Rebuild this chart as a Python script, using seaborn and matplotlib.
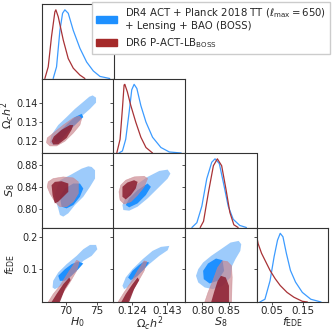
import pandas as pd
import seaborn as sns
import matplotlib.pyplot as plt
from matplotlib.patches import Patch

# axis setup for the four parameters
labels = [r'$H_0$', r'$\Omega_c h^2$', r'$S_8$', r'$f_{\rm EDE}$']
ranges = [(66.2, 77.7), (0.1138, 0.1530), (0.767, 0.902), (0.0, 0.229)]
xticks = [[70, 75], [0.124, 0.143], [0.80, 0.85], [0.05, 0.15]]
xticklabels = [['70', '75'], ['0.124', '0.143'], ['0.80', '0.85'], ['0.05', '0.15']]
yticks = [[], [0.12, 0.13, 0.14], [0.80, 0.84, 0.88], [0.1, 0.2]]
yticklabels = [[], ['0.12', '0.13', '0.14'], ['0.80', '0.84', '0.88'], ['0.1', '0.2']]

legend_labels = ['DR4 ACT + Planck 2018 TT ($\\ell_{\\rm max} = 650$)\n+ Lensing + BAO (BOSS)',
                 r'DR6 P-ACT-LB$_{\rm BOSS}$']

# 1D marginals (normalised to peak = 1)
h0_blue_x = [68.0, 68.54, 69.08, 69.51, 69.88, 70.42, 71.23, 72.3, 73.38, 74.45, 75.53, 77.1]
h0_blue_p = [0, 0.17, 0.70, 0.95, 1.0, 0.95, 0.70, 0.44, 0.24, 0.11, 0.03, 0]
h0_red_x = [66.66, 67.2, 67.73, 68.27, 68.43, 68.81, 69.62, 70.42, 71.23, 72.3, 73.1]
h0_red_p = [0, 0.17, 0.61, 0.97, 1.0, 0.90, 0.56, 0.29, 0.15, 0.05, 0]

om_blue_x = [0.1168, 0.1187, 0.1205, 0.1224, 0.1238, 0.1251, 0.1266, 0.1288, 0.1316, 0.1352, 0.1398, 0.1444, 0.1509]
om_blue_p = [0, 0.03, 0.20, 0.60, 0.92, 1.0, 0.94, 0.69, 0.45, 0.23, 0.08, 0.015, 0]
om_red_x = [0.1156, 0.1174, 0.1187, 0.1196, 0.1200, 0.1214, 0.1233, 0.1260, 0.1288, 0.1316, 0.1352]
om_red_p = [0, 0.2, 0.65, 0.99, 1.0, 0.89, 0.69, 0.45, 0.23, 0.08, 0]

s8_blue_x = [0.78, 0.7894, 0.7988, 0.8081, 0.8175, 0.8237, 0.8318, 0.8393, 0.8486, 0.858, 0.8704, 0.8829]
s8_blue_p = [0, 0.07, 0.31, 0.71, 0.95, 1.0, 0.93, 0.66, 0.31, 0.12, 0.03, 0]
s8_red_x = [0.7957, 0.802, 0.8112, 0.8206, 0.8281, 0.8362, 0.8443, 0.8517, 0.8592, 0.8673]
s8_red_p = [0, 0.09, 0.51, 0.9, 1.0, 0.9, 0.56, 0.22, 0.04, 0]

f_blue_x = [0.0107, 0.027, 0.0434, 0.0564, 0.0673, 0.076, 0.0847, 0.0956, 0.1087, 0.125, 0.1468, 0.174, 0.2067]
f_blue_p = [0, 0.04, 0.31, 0.66, 0.90, 1.0, 0.95, 0.71, 0.46, 0.29, 0.14, 0.04, 0]
f_red_x = [0.0, 0.0052, 0.0161, 0.027, 0.0434, 0.0597, 0.076, 0.0978, 0.1196, 0.1468, 0.163]
f_red_p = [0.975, 0.85, 0.71, 0.61, 0.46, 0.34, 0.24, 0.14, 0.07, 0.01, 0]

# 2D contours (68% = 1, 95% = 2), outlines
om_h0_blue2 = [(74.35, 0.1441), (74.89, 0.1429), (74.89, 0.1403), (73.92, 0.1370), (72.84, 0.1339), (71.77, 0.1302),
               (70.69, 0.1260), (69.62, 0.1217), (68.54, 0.1183), (68.0, 0.1180), (67.47, 0.1192), (67.74, 0.1234),
               (68.81, 0.1285), (70.16, 0.1327), (71.5, 0.1370), (72.84, 0.1407), (73.81, 0.1434)]
om_h0_blue1 = [(72.58, 0.1344), (72.84, 0.1327), (71.77, 0.1293), (70.43, 0.1251), (69.35, 0.1209), (68.54, 0.1192),
               (68.11, 0.1209), (68.81, 0.1243), (70.16, 0.1288), (71.5, 0.1327)]
om_h0_red2 = [(67.04, 0.1217), (66.93, 0.1192), (67.47, 0.1175), (68.54, 0.1175), (69.89, 0.1200), (71.23, 0.1243),
              (72.3, 0.1285), (72.58, 0.1319), (72.2, 0.1332), (71.23, 0.1322), (69.62, 0.1285), (68.0, 0.1242)]
om_h0_red1 = [(67.74, 0.1200), (68.0, 0.1183), (68.81, 0.1183), (70.16, 0.1217), (70.96, 0.1260), (71.23, 0.1285),
              (70.69, 0.1285), (69.35, 0.1260), (68.11, 0.1225)]

s8_h0_blue2 = [(74.19, 0.8767), (74.73, 0.8707), (74.73, 0.8557), (73.92, 0.8407), (72.84, 0.8227), (71.5, 0.8077),
               (70.43, 0.7927), (69.62, 0.7867), (69.08, 0.7897), (68.81, 0.8017), (68.54, 0.8107), (68.27, 0.8287),
               (69.08, 0.8527), (70.69, 0.8617), (72.58, 0.8737), (73.65, 0.8779)]
s8_h0_blue1 = [(72.3, 0.8467), (72.84, 0.8377), (72.3, 0.8227), (71.23, 0.8077), (70.16, 0.8017), (69.35, 0.8047),
               (69.08, 0.8227), (69.89, 0.8377), (71.23, 0.8467)]
s8_h0_red2 = [(67.2, 0.8497), (68.0, 0.8557), (69.62, 0.8587), (71.23, 0.8569), (72.04, 0.8497), (72.04, 0.8287),
              (71.23, 0.8137), (70.16, 0.8047), (69.08, 0.8047), (68.27, 0.8137), (67.47, 0.8287), (67.04, 0.8407)]
s8_h0_red1 = [(67.74, 0.8437), (68.27, 0.8497), (69.35, 0.8509), (70.43, 0.8467), (70.43, 0.8317), (69.62, 0.8227),
              (68.81, 0.8137), (68.27, 0.8107), (67.9, 0.8257)]

s8_om_blue2 = [(0.1435, 0.8719), (0.1450, 0.8647), (0.1435, 0.8557), (0.1380, 0.8377), (0.1325, 0.8197), (0.1270, 0.8047),
               (0.1224, 0.7975), (0.1192, 0.7987), (0.1187, 0.8077), (0.1205, 0.8227), (0.1260, 0.8437), (0.1325, 0.8587),
               (0.1389, 0.8695)]
s8_om_blue1 = [(0.1325, 0.8467), (0.1343, 0.8407), (0.1315, 0.8257), (0.1270, 0.8107), (0.1224, 0.8035), (0.1205, 0.8077),
               (0.1224, 0.8197), (0.1270, 0.8347)]
s8_om_red2 = [(0.1178, 0.8437), (0.1205, 0.8527), (0.1251, 0.8587), (0.1306, 0.8599), (0.1325, 0.8557), (0.1306, 0.8407),
              (0.1270, 0.8257), (0.1233, 0.8137), (0.1196, 0.8095), (0.1174, 0.8167), (0.1168, 0.8317)]
s8_om_red1 = [(0.1187, 0.8407), (0.1214, 0.8485), (0.1251, 0.8527), (0.1270, 0.8497), (0.1260, 0.8377), (0.1233, 0.8257),
              (0.1205, 0.8179), (0.1187, 0.8227)]

f_h0_blue2 = [(73.92, 0.1755), (74.89, 0.1755), (75.1, 0.1622), (74.19, 0.1418), (72.84, 0.1265), (71.5, 0.0958),
              (70.43, 0.0703), (69.35, 0.0498), (68.27, 0.0396), (67.9, 0.0447), (68.0, 0.0651), (68.81, 0.0907),
              (70.16, 0.1163), (71.77, 0.1418), (72.84, 0.1622)]
f_h0_blue1 = [(72.04, 0.1244), (72.84, 0.1183), (72.04, 0.1009), (70.96, 0.0805), (69.89, 0.0651), (69.08, 0.0651),
              (68.81, 0.0805), (69.89, 0.1009), (70.96, 0.1163)]
f_h0_red2 = [(71.77, 0.1285), (72.2, 0.1244), (71.77, 0.0958), (70.69, 0.0600), (69.62, 0.0293), (68.81, 0.0),
             (67.2, 0.0), (68.0, 0.0243), (69.08, 0.0498), (70.43, 0.0907)]
f_h0_red1 = [(70.59, 0.0754), (70.8, 0.0672), (69.89, 0.0396), (69.08, 0.0), (67.74, 0.0), (68.54, 0.0243),
             (69.62, 0.0549)]

f_om_blue2 = [(0.1398, 0.1694), (0.1444, 0.1725), (0.1435, 0.1592), (0.1389, 0.1418), (0.1334, 0.1163), (0.1288, 0.0907),
              (0.1251, 0.0651), (0.1214, 0.0447), (0.1196, 0.0396), (0.1187, 0.0498), (0.1205, 0.0754), (0.1242, 0.1009),
              (0.1298, 0.1316), (0.1352, 0.1571)]
f_om_blue1 = [(0.1306, 0.1244), (0.1334, 0.1214), (0.1306, 0.1009), (0.1270, 0.0805), (0.1233, 0.0672), (0.1218, 0.0754),
              (0.1242, 0.0958), (0.1279, 0.1142)]
f_om_red2 = [(0.1306, 0.1265), (0.1321, 0.1244), (0.1306, 0.0958), (0.1270, 0.0600), (0.1233, 0.0243), (0.1214, 0.0),
             (0.1163, 0.0), (0.1196, 0.0294), (0.1233, 0.0600), (0.1270, 0.0958)]
f_om_red1 = [(0.1270, 0.0754), (0.1279, 0.0672), (0.1251, 0.0396), (0.1224, 0.0), (0.1181, 0.0), (0.1205, 0.0243),
             (0.1242, 0.0549)]

f_s8_blue2 = [(0.8683, 0.1878), (0.8732, 0.1776), (0.8714, 0.1571), (0.8622, 0.1316), (0.8560, 0.1111), (0.8530, 0.0754),
              (0.8378, 0.0498), (0.8195, 0.0396), (0.8043, 0.0447), (0.7920, 0.0600), (0.7878, 0.0805), (0.7920, 0.1009),
              (0.8012, 0.1214), (0.8165, 0.1418), (0.8348, 0.1622), (0.8530, 0.1827)]
f_s8_blue1 = [(0.8256, 0.1336), (0.8378, 0.1285), (0.8409, 0.0958), (0.8287, 0.0651), (0.8134, 0.0570), (0.8024, 0.0703),
              (0.8012, 0.0958), (0.8104, 0.1183)]
f_s8_red2 = [(0.8378, 0.1265), (0.8470, 0.1244), (0.8549, 0.1111), (0.8561, 0.0754), (0.8549, 0.0), (0.8043, 0.0),
             (0.8104, 0.0294), (0.8195, 0.0651), (0.8287, 0.1060)]
f_s8_red1 = [(0.8348, 0.0805), (0.8440, 0.0754), (0.8500, 0.0498), (0.8500, 0.0), (0.8165, 0.0), (0.8226, 0.0345),
             (0.8287, 0.0651)]

# colours
blue = '#1E90FF'
blue_light = '#9DCBFB'
blue_line = '#3C9BFF'
red = '#A52A2A'
red_line = '#A83236'
red_light = '#C9838B'
red_dark = '#8A1C2E'

sns.set_style('ticks')
plt.rcParams['font.family'] = ['DejaVu Sans']
plt.rcParams['axes.edgecolor'] = '#333333'
plt.rcParams['axes.linewidth'] = 0.8

diag = {0: [(h0_blue_x, h0_blue_p, blue_line), (h0_red_x, h0_red_p, red_line)],
        1: [(om_blue_x, om_blue_p, blue_line), (om_red_x, om_red_p, red_line)],
        2: [(s8_blue_x, s8_blue_p, blue_line), (s8_red_x, s8_red_p, red_line)],
        3: [(f_blue_x, f_blue_p, blue_line), (f_red_x, f_red_p, red_line)]}
contours = {(1, 0): (om_h0_blue2, om_h0_blue1, om_h0_red2, om_h0_red1),
            (2, 0): (s8_h0_blue2, s8_h0_blue1, s8_h0_red2, s8_h0_red1),
            (2, 1): (s8_om_blue2, s8_om_blue1, s8_om_red2, s8_om_red1),
            (3, 0): (f_h0_blue2, f_h0_blue1, f_h0_red2, f_h0_red1),
            (3, 1): (f_om_blue2, f_om_blue1, f_om_red2, f_om_red1),
            (3, 2): (f_s8_blue2, f_s8_blue1, f_s8_red2, f_s8_red1)}

W, H = 332, 333
fig = plt.figure(figsize=(W / 100, H / 100), dpi=100)
col_left = [42, 113.5, 185, 256.5]
row_top = [4, 78.5, 153, 227.5]
aw, ah = 71.5, 74.5
ymax_1d = 1.085

for i in range(4):
    for j in range(i + 1):
        ax = fig.add_axes([col_left[j] / W, 1 - (row_top[i] + ah) / H, aw / W, ah / H])
        ax.set_xlim(ranges[j])
        if i == j:
            for xs, ps, c in diag[i]:
                sns.lineplot(x=xs, y=ps, ax=ax, color=c, lw=0.9, sort=False, estimator=None)
            ax.set_ylim(0, ymax_1d)
            lo, hi = ranges[i]
            ax.set_yticks([(t - lo) / (hi - lo) * ymax_1d for t in yticks[i]])
            ax.set_yticklabels([])
        else:
            b2, b1, r2, r1 = contours[(i, j)]
            ax.fill(*zip(*b2), color=blue_light, lw=0)
            ax.fill(*zip(*b1), color=blue, lw=0)
            ax.fill(*zip(*r2), color=red_light, alpha=0.65, lw=0.4, edgecolor=red_light)
            ax.fill(*zip(*r1), color=red_dark, alpha=0.85, lw=0)
            ax.set_ylim(ranges[i])
            ax.set_yticks(yticks[i])
            if j == 0:
                ax.set_yticklabels(yticklabels[i])
                ax.set_ylabel(labels[i], fontsize=8)
                ax.yaxis.set_label_coords((17 - 42) / aw, 0.5)
            else:
                ax.set_yticklabels([])
        ax.set_xticks(xticks[j])
        if i == 3:
            ax.set_xticklabels(xticklabels[j])
            ax.set_xlabel(labels[j], fontsize=8)
            ax.xaxis.set_label_coords(0.5, -13 / ah)
        else:
            ax.set_xticklabels([])
        ax.tick_params(labelsize=7.5, length=2, width=0.6, pad=1, color='#333333')
        ax.tick_params(axis='y', labelsize=7)
        for s in ax.spines.values():
            s.set_visible(True)

handles = [Patch(color=blue), Patch(color=red)]
fig.legend(handles, legend_labels, loc='upper right', bbox_to_anchor=(330 / W, 1 - 2 / H),
           fontsize=7.3, frameon=True, fancybox=False, edgecolor='#cccccc', framealpha=1,
           handlelength=2.0, borderpad=0.4, labelspacing=0.45, handletextpad=0.8, borderaxespad=0)

fig.savefig('out.png', dpi=100)
